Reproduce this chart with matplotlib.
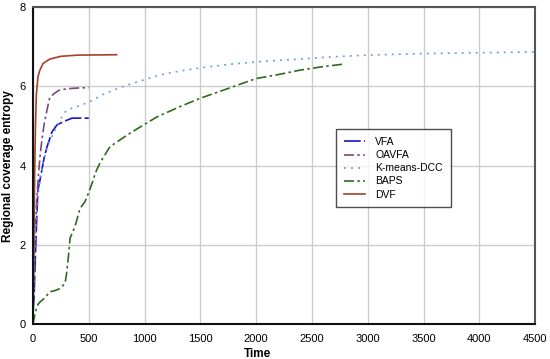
import matplotlib
matplotlib.use("Agg")
import matplotlib.pyplot as plt

plt.rcParams['font.family'] = ['Liberation Sans', 'DejaVu Sans']

# values
dvf_t = [0, 8, 15, 22, 30, 45, 60, 90, 150, 250, 400, 750]
dvf_y = [0, 2.0, 3.8, 5.0, 5.8, 6.25, 6.4, 6.58, 6.69, 6.76, 6.79, 6.8]

oavfa_t = [0, 10, 20, 35, 50, 65, 80, 100, 125, 150, 190, 230, 300, 400, 500]
oavfa_y = [0.5, 1.5, 2.4, 3.2, 3.8, 4.3, 4.65, 5.05, 5.4, 5.72, 5.82, 5.9, 5.94, 5.96, 5.97]

vfa_t = [0, 10, 20, 35, 45, 60, 80, 100, 125, 170, 215, 280, 350, 420, 500]
vfa_y = [0.3, 0.7, 1.6, 2.8, 3.4, 3.6, 3.9, 4.2, 4.47, 4.85, 5.03, 5.12, 5.2, 5.2, 5.2]

kmeans_t = [0, 15, 30, 55, 90, 130, 180, 240, 300, 400, 500, 650, 840, 1000, 1140,
            1300, 1500, 1800, 2100, 2390, 2700, 3000, 3500, 4000, 4500]
kmeans_y = [0, 1.8, 2.7, 3.5, 4.06, 4.5, 4.8, 5.15, 5.4, 5.5, 5.6, 5.83, 6.03, 6.17, 6.29,
            6.38, 6.47, 6.57, 6.64, 6.69, 6.75, 6.79, 6.83, 6.85, 6.87]

baps_t = [0, 20, 45, 63, 100, 152, 200, 242, 287, 301, 317, 332, 376, 421, 466, 496,
          540, 556, 600, 690, 869, 1110, 1317, 1497, 1750, 2000, 2200, 2390, 2600, 2775]
baps_y = [0, 0.3, 0.5, 0.56, 0.65, 0.82, 0.85, 0.9, 1.03, 1.28, 1.7, 2.17, 2.46, 2.92,
          3.09, 3.3, 3.64, 3.8, 4.07, 4.48, 4.82, 5.23, 5.49, 5.7, 5.95, 6.2, 6.3, 6.41, 6.5, 6.56]

fig = plt.figure(figsize=(5.5, 3.59), dpi=100)
ax = fig.add_axes([0.06, 0.097, 0.913, 0.883])

ax.plot(vfa_t, vfa_y, color='#1515c8', lw=1.2, ls=(0, (10, 2)), label='VFA')
ax.plot(oavfa_t, oavfa_y, color='#7a4a78', lw=1.2, ls=(0, (6, 2, 1.5, 2)), label='OAVFA')
ax.plot(kmeans_t, kmeans_y, color='#6f9fdc', lw=1.2, ls=(0, (1.2, 3)), label='K-means-DCC')
ax.plot(baps_t, baps_y, color='#2f6b1c', lw=1.2, ls=(0, (6, 2, 1.5, 2)), label='BAPS')
ax.plot(dvf_t, dvf_y, color='#a5402a', lw=1.2, label='DVF')

ax.set_xlim(0, 4500)
ax.set_ylim(0, 8)
ax.set_xticks(range(0, 4501, 500))
ax.set_yticks([0, 2, 4, 6, 8])
ax.grid(True, color='#cccccc', lw=1)
ax.set_axisbelow(True)
ax.tick_params(axis='x', length=0, labelsize=8, pad=7)
ax.tick_params(axis='y', length=0, labelsize=8, pad=5)

for s in ['left', 'bottom']:
    ax.spines[s].set_color('#111111')
    ax.spines[s].set_linewidth(1.5)
for s in ['top', 'right']:
    ax.spines[s].set_color('#555555')
    ax.spines[s].set_linewidth(1.5)

ax.set_xlabel('Time', fontsize=8.5, fontweight='bold')
ax.xaxis.set_label_coords(0.448, -0.075)
ax.set_ylabel('Regional coverage entropy', fontsize=8.5, fontweight='bold')
ax.yaxis.set_label_coords(-0.037, 0.5)

leg = ax.legend(loc='upper left', bbox_to_anchor=(0.6036, 0.615), fontsize=7.5,
                frameon=True, fancybox=False, handlelength=2.0, borderpad=0.75,
                labelspacing=0.3, handletextpad=1.0, borderaxespad=0)
leg.get_frame().set_edgecolor('#222222')
leg.get_frame().set_linewidth(1.0)

fig.savefig('out.png', dpi=100)
